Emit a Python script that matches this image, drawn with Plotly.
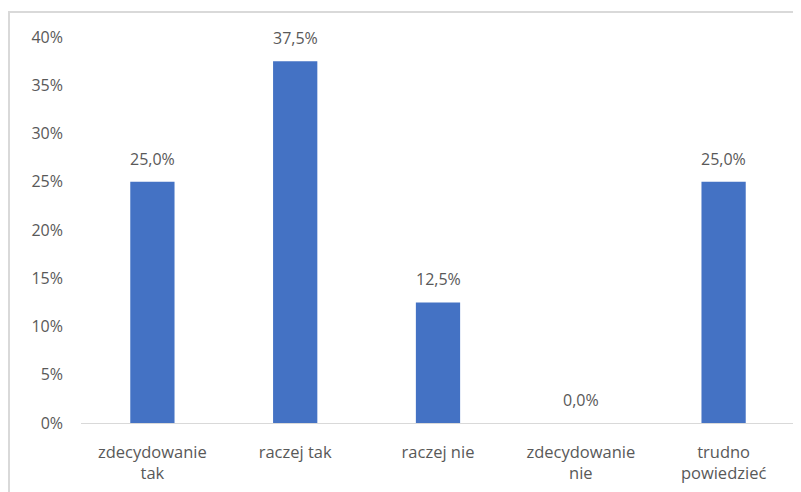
import plotly.graph_objects as go

categories = ["zdecydowanie<br>tak", "raczej tak", "raczej nie", "zdecydowanie<br>nie", "trudno<br>powiedzieć"]
values = [0.25, 0.375, 0.125, 0.0, 0.25]
labels = ["25,0%", "37,5%", "12,5%", "0,0%", "25,0%"]
tick_vals = [0, 0.05, 0.10, 0.15, 0.20, 0.25, 0.30, 0.35, 0.40]

# page body has an 8px margin, so the figure is laid out 8px in from the window
W, H = 793, 484
L, R, T, B = 73, 6, 29, 69
pw = W - L - R
ph = H - T - B

gray = "#595959"
font_family = "Open Sans, Noto Sans, sans-serif"
fs = 16

fig = go.Figure()
fig.add_trace(go.Bar(
    x=categories,
    y=values,
    marker=dict(color="#4472C4", line=dict(width=0)),
    hoverinfo="skip",
))

for c, v, t in zip(categories, values, labels):
    fig.add_annotation(
        x=c, y=v, text=t, showarrow=False,
        yanchor="bottom", yshift=10,
        font=dict(size=fs, color=gray, family=font_family),
    )

fig.update_layout(
    width=W, height=H,
    margin=dict(l=L, r=R, t=T, b=B, autoexpand=False),
    paper_bgcolor="white",
    plot_bgcolor="white",
    separators=", ",
    bargap=0.69,
    showlegend=False,
    font=dict(family=font_family, size=fs, color=gray),
    xaxis=dict(
        showline=True, linecolor="#d9d9d9", linewidth=1,
        showgrid=False, ticks="", tickfont=dict(size=16.5, color=gray),
        ticklabelstandoff=14,
        fixedrange=True,
    ),
    yaxis=dict(
        range=[0, 0.4], tickvals=tick_vals, tickformat=".0%",
        showgrid=False, zeroline=False, showline=False, ticks="",
        tickfont=dict(size=fs, color=gray),
        ticklabelstandoff=17,
        fixedrange=True,
    ),
    shapes=[dict(
        type="rect", xref="paper", yref="paper",
        x0=(1 - L) / pw, x1=(W + 20 - L) / pw,
        y0=-(H + 20 - T - ph) / ph, y1=1 + (T - 4) / ph,
        line=dict(color="#d9d9d9", width=2), fillcolor="rgba(0,0,0,0)",
        layer="below",
    )],
)

fig.write_html("out.html")
